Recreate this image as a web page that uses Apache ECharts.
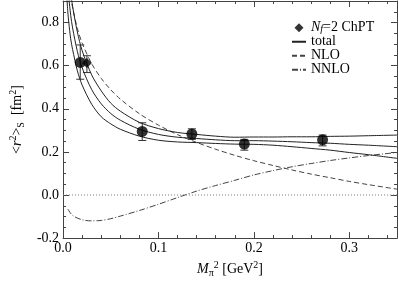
<!DOCTYPE html>
<html><head><meta charset="utf-8">
<script src="https://cdn.jsdelivr.net/npm/echarts@6/dist/echarts.min.js"></script>
<style>html,body{margin:0;padding:0;background:#fff}#c{width:399px;height:283px}</style>
</head><body><div id="c"></div><script>
// ---- data ----
const totalX     = [0.003,0.005,0.006,0.008,0.01,0.015,0.02,0.03,0.04,0.05,0.06,0.08,0.10,0.12,0.14,0.16,0.18,0.20,0.22,0.24,0.26,0.28,0.30,0.32,0.35];
const totalMid   = [1.105,0.969,0.916,0.834,0.775,0.666,0.590,0.489,0.423,0.378,0.347,0.305,0.281,0.268,0.262,0.256,0.252,0.252,0.250,0.247,0.243,0.240,0.235,0.231,0.224];
const totalUpper = [1.23,1.089,1.031,0.944,0.875,0.756,0.670,0.557,0.483,0.426,0.389,0.337,0.308,0.290,0.281,0.273,0.268,0.269,0.269,0.270,0.270,0.272,0.273,0.275,0.278];
const totalLower = [0.98,0.849,0.801,0.724,0.675,0.576,0.510,0.421,0.363,0.330,0.305,0.273,0.254,0.246,0.243,0.239,0.236,0.235,0.231,0.224,0.216,0.208,0.197,0.187,0.170];

const nloX = [0.005,0.006,0.008,0.01,0.015,0.02,0.03,0.04,0.05,0.06,0.08,0.10,0.12,0.14,0.16,0.18,0.20,0.22,0.24,0.26,0.28,0.30,0.32,0.35];
const nloY = [1.034,0.991,0.922,0.870,0.773,0.705,0.609,0.541,0.488,0.445,0.377,0.324,0.280,0.244,0.212,0.184,0.159,0.137,0.116,0.097,0.080,0.063,0.048,0.027];

const nnloX = [0.005,0.01,0.02,0.03,0.04,0.05,0.06,0.08,0.10,0.12,0.14,0.16,0.18,0.20,0.22,0.24,0.26,0.28,0.30,0.32,0.35];
const nnloY = [-0.065,-0.095,-0.115,-0.120,-0.118,-0.110,-0.098,-0.072,-0.043,-0.012,0.018,0.044,0.068,0.093,0.113,0.131,0.146,0.160,0.172,0.183,0.197];

const zeroX = [0, 0.35];
const zeroY = [0, 0];

// lattice points (circles) with error bars
const ptX  = [0.018, 0.083, 0.135, 0.190, 0.272];
const ptY  = [0.615, 0.295, 0.283, 0.236, 0.256];
const ptLo = [0.537, 0.253, 0.258, 0.208, 0.228];
const ptHi = [0.696, 0.335, 0.307, 0.258, 0.278];

// Nf=2 ChPT point (diamond)
const chX  = [0.025];
const chY  = [0.612];
const chLo = [0.568];
const chHi = [0.646];

const xTicks = [0, 0.1, 0.2, 0.3];
const yTicks = [-0.2, 0, 0.2, 0.4, 0.6, 0.8];

// ---- build ----
const zip = (a, b) => a.map((v, i) => [v, b[i]]);
const FONT = "'Liberation Serif', 'Times New Roman', serif";
const ink = '#222';

function errBars(xs, lo, hi) {
  return {
    type: 'custom', xAxisIndex: 0, yAxisIndex: 0, z: 3, silent: true,
    data: xs.map((x, i) => [x, lo[i], hi[i]]),
    renderItem: function (params, api) {
      const a = api.coord([api.value(0), api.value(1)]);
      const b = api.coord([api.value(0), api.value(2)]);
      const w = 4;
      const st = { stroke: '#333', lineWidth: 1 };
      return { type: 'group', children: [
        { type: 'line', shape: { x1: a[0], y1: a[1], x2: b[0], y2: b[1] }, style: st },
        { type: 'line', shape: { x1: a[0]-w, y1: a[1], x2: a[0]+w, y2: a[1] }, style: st },
        { type: 'line', shape: { x1: b[0]-w, y1: b[1], x2: b[0]+w, y2: b[1] }, style: st }
      ]};
    }
  };
}

const baseLbl = { fontFamily: FONT, fontSize: 14, color: '#000' };
const rich = {
  n:   { fontFamily: FONT, fontSize: 14, color: '#000', lineHeight: 18, verticalAlign: 'middle' },
  i:   { fontFamily: FONT, fontSize: 14, color: '#000', fontStyle: 'italic', lineHeight: 18, verticalAlign: 'middle' },
  sub: { fontFamily: FONT, fontSize: 10, color: '#000', lineHeight: 10, verticalAlign: 'bottom' },
  sup: { fontFamily: FONT, fontSize: 10, color: '#000', lineHeight: 10, verticalAlign: 'top' }
};

function xAx(pos, interval, len, withLabel, withLine) {
  return {
    type: 'value', min: 0, max: 0.35, interval: interval, position: pos,
    axisLine: { show: withLine, onZero: false, lineStyle: { color: '#444', width: 1 } },
    axisTick: { show: true, inside: true, length: len, lineStyle: { color: '#444' } },
    splitLine: { show: false },
    axisLabel: withLabel ? Object.assign({}, baseLbl, { margin: 3, showMaxLabel: false,
      formatter: v => xTicks.some(t => Math.abs(t - v) < 1e-9) ? v.toFixed(1) : '' }) : { show: false },
    name: withLabel ? '{i|M}{sub|π}{sup|2}{n| [GeV}{sup|2}{n|]}' : '',
    nameLocation: 'middle', nameGap: 20,
    nameTextStyle: { rich: rich }
  };
}
function yAx(pos, interval, len, withLabel, withLine) {
  return {
    type: 'value', min: -0.2, max: 0.9, interval: interval, position: pos,
    axisLine: { show: withLine, onZero: false, lineStyle: { color: '#444', width: 1 } },
    axisTick: { show: true, inside: true, length: len, lineStyle: { color: '#444' } },
    splitLine: { show: false },
    axisLabel: withLabel ? Object.assign({}, baseLbl, { margin: 4,
      formatter: v => yTicks.some(t => Math.abs(t - v) < 1e-9) ? v.toFixed(1) : '' }) : { show: false },
    name: withLabel ? '{n|<}{i|r}{sup|2}{n|>}{sub|S}{n|  [fm}{sup|2}{n|]}' : '',
    nameLocation: 'middle', nameGap: 26,
    nameTextStyle: { rich: rich }
  };
}

const lineBase = { type: 'line', xAxisIndex: 0, yAxisIndex: 0, symbol: 'none', showSymbol: false, smooth: 0.3, clip: true, silent: true };
const noSym = { opacity: 0 };

const option = {
  animation: false,
  backgroundColor: '#fff',
  grid: { left: 48.5, right: 2, top: 1, bottom: 39, containLabel: false },
  legend: {
    orient: 'vertical', left: 286, top: 13, itemWidth: 14, itemHeight: 9, itemGap: 0,
    symbolKeepAspect: true,
    data: [
      { name: 'Nf=2 ChPT', icon: 'path://M5,0 L10,5 L5,10 L0,5 Z' },
      { name: 'total', itemStyle: noSym }, { name: 'NLO', itemStyle: noSym }, { name: 'NNLO', itemStyle: noSym }
    ],
    formatter: function (name) {
      if (name === 'Nf=2 ChPT') return '{i|N}{subi|f}{n|=2 ChPT}';
      return '{n|' + name + '}';
    },
    textStyle: { rich: {
      n: { fontFamily: FONT, fontSize: 14, color: '#000', lineHeight: 12.5 },
      i: { fontFamily: FONT, fontSize: 14, color: '#000', fontStyle: 'italic', lineHeight: 12.5 },
      subi: { fontFamily: FONT, fontSize: 10, color: '#000', fontStyle: 'italic', lineHeight: 9, verticalAlign: 'bottom', padding: [6, 0, 0, 0] }
    } }
  },
  xAxis: [
    xAx('bottom', 0.1, 6, true, true),
    xAx('bottom', 0.02, 3, false, false),
    xAx('top', 0.1, 6, false, true),
    xAx('top', 0.02, 3, false, false)
  ],
  yAxis: [
    yAx('left', 0.2, 6, true, true),
    yAx('left', 0.05, 3, false, false),
    yAx('right', 0.2, 6, false, true),
    yAx('right', 0.05, 3, false, false)
  ],
  series: [
    Object.assign({}, lineBase, { name: 'zero', data: zip(zeroX, zeroY), smooth: false,
      lineStyle: { color: '#777', width: 1, type: [1, 2] } }),
    Object.assign({}, lineBase, { name: 'NNLO', data: zip(nnloX, nnloY),
      lineStyle: { color: '#444', width: 1, type: [6, 2, 1, 2] }, itemStyle: { color: '#444' } }),
    Object.assign({}, lineBase, { name: 'NLO', data: zip(nloX, nloY),
      lineStyle: { color: '#444', width: 1, type: [5, 3] }, itemStyle: { color: '#444' } }),
    Object.assign({}, lineBase, { name: 'total upper', data: zip(totalX, totalUpper),
      lineStyle: { color: ink, width: 1 } }),
    Object.assign({}, lineBase, { name: 'total', data: zip(totalX, totalMid),
      lineStyle: { color: ink, width: 1 }, itemStyle: { color: ink } }),
    Object.assign({}, lineBase, { name: 'total lower', data: zip(totalX, totalLower),
      lineStyle: { color: ink, width: 1 } }),
    errBars(ptX, ptLo, ptHi),
    errBars(chX, chLo, chHi),
    { type: 'scatter', name: 'lattice', xAxisIndex: 0, yAxisIndex: 0, z: 4, symbol: 'circle', symbolSize: 11,
      itemStyle: { color: '#000' }, data: zip(ptX, ptY) },
    { type: 'scatter', name: 'Nf=2 ChPT', xAxisIndex: 0, yAxisIndex: 0, z: 5, symbol: 'diamond', symbolSize: 10,
      itemStyle: { color: '#000' }, data: zip(chX, chY) }
  ]
};

const chart = echarts.init(document.getElementById('c'), null, { renderer: 'canvas' });
chart.setOption(option);
</script></body></html>
